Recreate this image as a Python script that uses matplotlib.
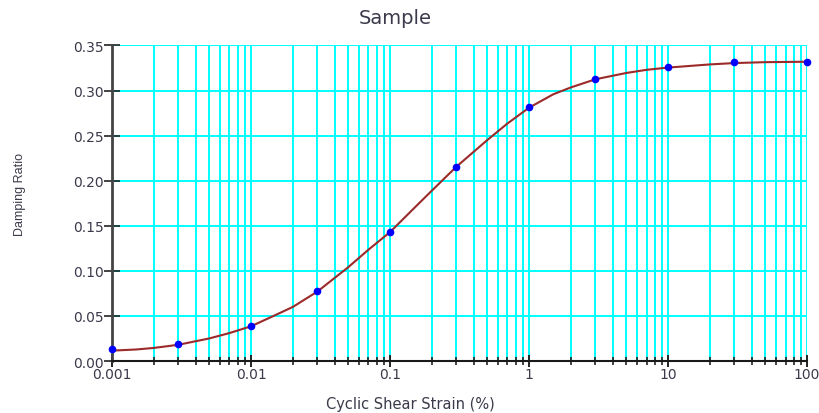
import matplotlib
matplotlib.use("Agg")
import matplotlib.pyplot as plt
from matplotlib.ticker import LogLocator, FixedLocator, NullFormatter

# Measured damping ratios
strain_pts = [0.001, 0.003, 0.01, 0.03, 0.1, 0.3, 1, 3, 10, 30, 100]
damping_pts = [0.0133, 0.0185, 0.0388, 0.0772, 0.1428, 0.2156, 0.2814, 0.3125, 0.3258, 0.3314, 0.332]

# Fitted damping curve
strain_fit = [0.001, 0.0015, 0.002, 0.003, 0.005, 0.007, 0.01, 0.015, 0.02, 0.03, 0.05,
              0.07, 0.1, 0.15, 0.2, 0.3, 0.5, 0.7, 1, 1.5, 2, 3, 5, 7, 10, 20, 30, 50, 100]
damping_fit = [0.0115, 0.0128, 0.0145, 0.018, 0.025, 0.031, 0.0385, 0.051, 0.060, 0.077, 0.104,
               0.1235, 0.143, 0.170, 0.189, 0.2155, 0.245, 0.2635, 0.281, 0.296, 0.3035, 0.3125,
               0.3195, 0.3230, 0.3255, 0.329, 0.3305, 0.3315, 0.332]

y_ticks = [0.00, 0.05, 0.10, 0.15, 0.20, 0.25, 0.30, 0.35]
x_ticks = [0.001, 0.01, 0.1, 1, 10, 100]
x_tick_labels = ["0.001", "0.01", "0.1", "1", "10", "100"]

plt.rcParams['font.family'] = ['DejaVu Sans']
text_color = '#3a3a4a'

fig = plt.figure(figsize=(8.2, 4.14), dpi=100)
ax = fig.add_axes([0.1366, 0.1256, 0.8476, 0.7621])

ax.set_xscale('log')
ax.set_xlim(0.001, 100)
ax.set_ylim(0, 0.35)

# grid lines at every decade subdivision and every y tick
ax.xaxis.set_major_locator(FixedLocator(x_ticks))
ax.set_xticklabels(x_tick_labels)
ax.xaxis.set_minor_locator(LogLocator(base=10, subs=range(2, 10), numticks=20))
ax.xaxis.set_minor_formatter(NullFormatter())
ax.set_yticks(y_ticks)
ax.set_yticklabels([f"{v:.2f}" for v in y_ticks])

ax.grid(True, which='both', axis='x', color='#00FFFF', linewidth=1.4)
ax.grid(True, which='major', axis='y', color='#00FFFF', linewidth=1.4)
ax.set_axisbelow(True)

for side in ('top', 'right'):
    ax.spines[side].set_visible(False)
ax.spines['left'].set_color('#444444')
ax.spines['left'].set_linewidth(2.0)
ax.spines['bottom'].set_color('#1a1a1a')
ax.spines['bottom'].set_linewidth(1.5)

ax.tick_params(axis='y', which='major', direction='inout', length=12, width=1.2,
               color='#222222', labelsize=10, labelcolor=text_color, pad=0)
ax.tick_params(axis='x', which='major', direction='inout', length=9, width=1.4,
               color='#222222', labelsize=10, labelcolor=text_color, pad=0)
ax.tick_params(axis='x', which='minor', direction='inout', length=6, width=1.2,
               color='#222222')
ax.tick_params(axis='x', which='both', top=False)
ax.tick_params(axis='y', which='both', right=False)

ax.plot(strain_fit, damping_fit, color='#9B2A2A', linewidth=1.5, zorder=3, clip_on=False)
ax.plot(strain_pts, damping_pts, linestyle='none', marker='o', markersize=4.5,
        markerfacecolor='#0000FF', markeredgecolor='#0000FF', zorder=4, clip_on=False)

fig.text(0.482, 0.955, "Sample", ha='center', va='center', fontsize=14, color=text_color)
fig.text(0.50, 0.022, "Cyclic Shear Strain (%)", ha='center', va='center',
         fontsize=10.5, color=text_color)
fig.text(0.024, 0.53, "Damping Ratio", rotation=90, ha='center', va='center',
         fontsize=9, color=text_color,
         family=['Liberation Sans Narrow', 'Liberation Sans', 'DejaVu Sans'])

fig.savefig("out.png", dpi=100)
